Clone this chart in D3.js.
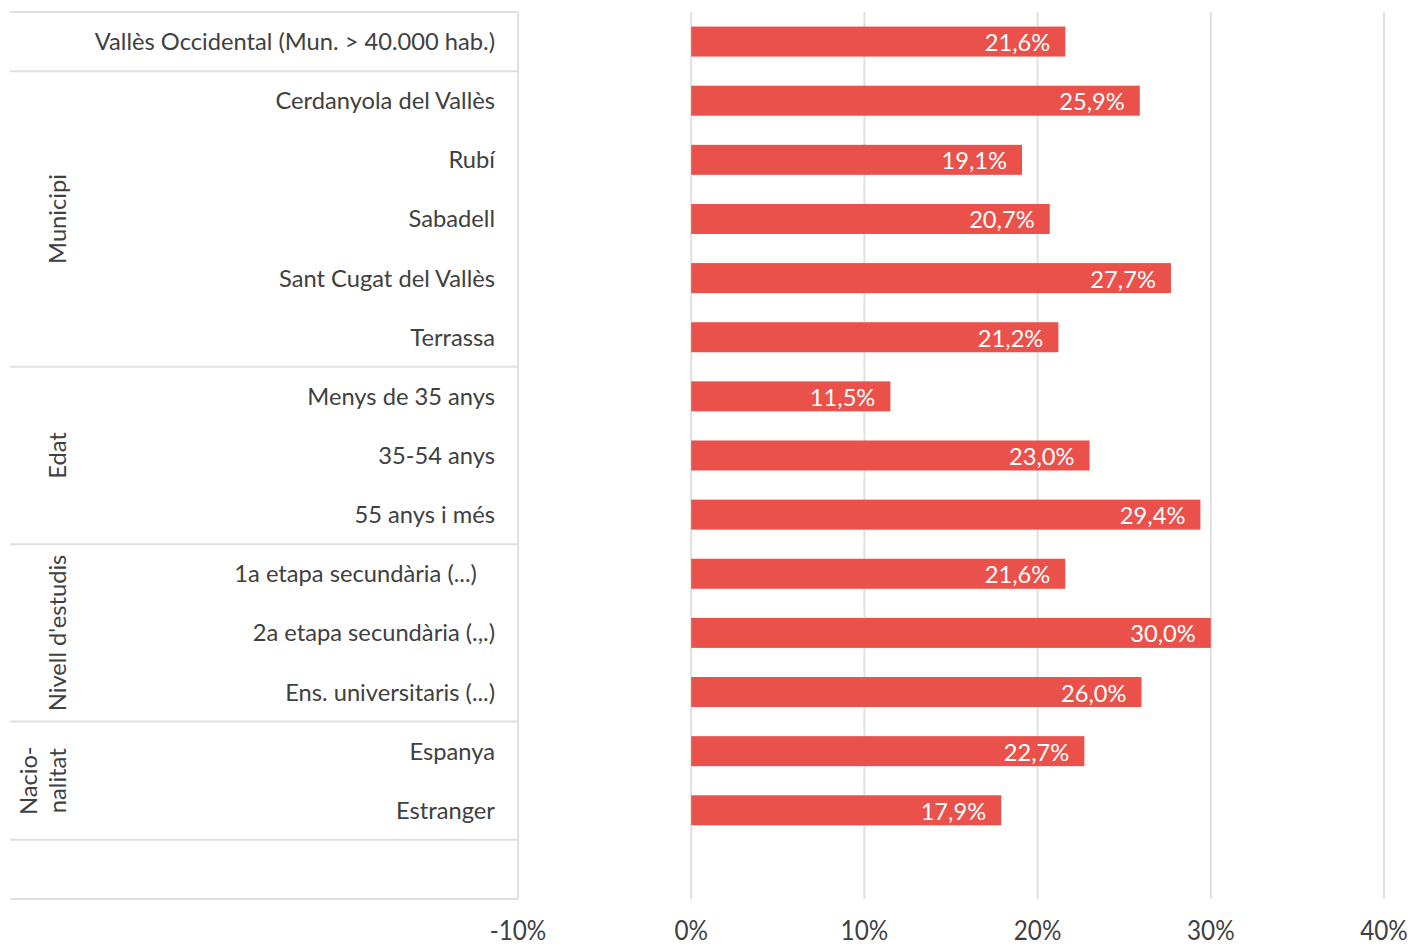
<!DOCTYPE html>
<html><head><meta charset="utf-8">
<script src="https://cdn.jsdelivr.net/npm/d3@7"></script>
<style>body{margin:0;background:#fff}svg{display:block;font-family:Lato,"Open Sans",sans-serif}</style>
</head><body><svg id="c" width="1413" height="946"></svg>
<script>
const categories = ["Vallès Occidental (Mun. > 40.000 hab.)","Cerdanyola del Vallès","Rubí","Sabadell","Sant Cugat del Vallès","Terrassa","Menys de 35 anys","35-54 anys","55 anys i més","1a etapa secundària (...)   ","2a etapa secundària (.,.)","Ens. universitaris (...)","Espanya","Estranger",""];
const values = [21.6,25.9,19.1,20.7,27.7,21.2,11.5,23.0,29.4,21.6,30.0,26.0,22.7,17.9,null];
const groups = [
  {name:["Municipi"], from:1, to:5},
  {name:["Edat"], from:6, to:8},
  {name:["Nivell d'estudis"], from:9, to:11},
  {name:["Nacio-","nalitat"], from:12, to:13}
];
const separators = [0,1,6,9,12,14,15];
const ticks = [-10,0,10,20,30,40];

(function(){
const svg = d3.select("#c");
const pTop = 12, pBottom = 899, panelL = 10;
const x = d3.scaleLinear().domain([-10,40]).range([518,1384]);
const y = d3.scaleBand().domain(d3.range(categories.length)).range([pTop,pBottom]);
const fmt = v => d3.format(".1f")(v).replace(".",",")+"%";
const grid = "#e0e0e0", txt = "#404040", bar = "#E9514A";

svg.append("g").selectAll("line").data(ticks.filter(t=>t>-10)).join("line")
  .attr("x1",d=>x(d)).attr("x2",d=>x(d)).attr("y1",pTop).attr("y2",pBottom)
  .attr("stroke",grid).attr("stroke-width",2);
svg.append("line").attr("x1",x(-10)).attr("x2",x(-10)).attr("y1",pTop).attr("y2",pBottom).attr("stroke",grid).attr("stroke-width",2);
svg.append("g").selectAll("line").data(separators).join("line")
  .attr("x1",panelL).attr("x2",x(-10)).attr("y1",d=>d>=categories.length?pBottom:y(d)).attr("y2",d=>d>=categories.length?pBottom:y(d))
  .attr("stroke",grid).attr("stroke-width",2);

const bh = 30;
const bd = values.map((v,i)=>({v,i})).filter(d=>d.v!=null);
svg.append("g").selectAll("rect").data(bd).join("rect")
  .attr("x",x(0)).attr("width",d=>x(d.v)-x(0))
  .attr("y",d=>y(d.i)+y.bandwidth()/2-bh/2).attr("height",bh).attr("fill",bar);
svg.append("g").selectAll("text").data(bd).join("text")
  .attr("x",d=>x(d.v)-15).attr("y",d=>y(d.i)+y.bandwidth()/2+1).attr("dy","0.36em")
  .attr("text-anchor","end").attr("fill","#fff").attr("font-size",23.7).text(d=>fmt(d.v));

svg.append("g").selectAll("text").data(categories).join("text")
  .attr("x",495).attr("y",(d,i)=>y(i)+y.bandwidth()/2).attr("dy","0.36em")
  .attr("text-anchor","end").attr("fill",txt).attr("font-size",23.7)
  .style("white-space","pre").text(d=>d);

groups.forEach(g=>{
  const cy = (y(g.from)+y(g.to)+y.bandwidth())/2;
  const n = g.name.length;
  g.name.forEach((s,k)=>{
    const cx = 57 - (n-1-k)*29;
    svg.append("text").attr("transform",`translate(${cx},${cy}) rotate(-90)`)
      .attr("text-anchor","middle").attr("dy","0.36em").attr("fill",txt).attr("font-size",23.7).text(s);
  });
});

svg.append("g").selectAll("text").data(ticks).join("text")
  .attr("transform",d=>`translate(${x(d)},940) scale(0.9,1)`)
  .attr("text-anchor","middle").attr("fill",txt).attr("font-size",27).text(d=>d+"%");
})();
</script></body></html>
